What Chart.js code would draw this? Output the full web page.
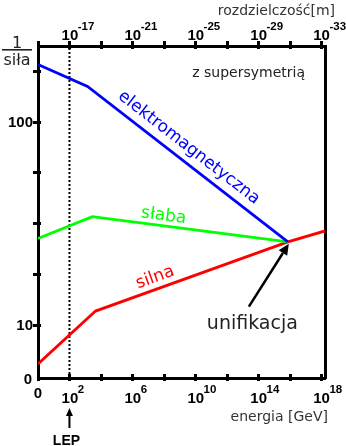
<!DOCTYPE html>
<html>
<head>
<meta charset="utf-8">
<script src="https://cdn.jsdelivr.net/npm/chart.js@4.4.1/dist/chart.umd.min.js"></script>
<style>
  html, body { margin: 0; padding: 0; background: #fff; }
  #wrap { width: 346px; height: 446px; }
</style>
</head>
<body>
<div id="wrap"><canvas id="c" width="346" height="446"></canvas></div>
<script>
// Running couplings (inverse strength) vs. energy in GeV, supersymmetric case
const electromagneticEnergy = [1, 10 ** 3.15, 10 ** 15.89];
const electromagneticInverse = [191, 149, 25.6];
const weakEnergy = [1, 10 ** 3.45, 10 ** 15.89];
const weakInverse = [26.6, 34.1, 25.6];
const strongEnergy = [1, 10 ** 3.66, 10 ** 15.89, 10 ** 18.25];
const strongInverse = [6.43, 11.7, 25.6, 29.0];
const lepEnergy = 100;

// Axis ranges and ticks
const energyRange = [1, 10 ** 18.25];
const inverseRange = [10 ** 0.739, 10 ** 2.372];
const metresAtOneGeV = 1e-15;
const energyTicks = [1, 1e2, 1e4, 1e6, 1e8, 1e10, 1e12, 1e14, 1e16, 1e18];
const energyTickExponents = [2, 6, 10, 14, 18];
const lengthTicks = [1e-15, 1e-17, 1e-19, 1e-21, 1e-23, 1e-25, 1e-27, 1e-29, 1e-31, 1e-33];
const lengthTickExponents = [-17, -21, -25, -29, -33];
const inverseTicks = [10, 17.78, 31.62, 56.23, 100, 177.8];
const inverseTickLabels = [10, 100];

const pairs = (xs, ys) => xs.map((x, i) => ({ x, y: ys[i] }));

const LABEL_FONT = 'bold 15px "Liberation Sans", Arial, sans-serif';
const EXP_FONT = 'bold 11.5px "Liberation Sans", Arial, sans-serif';
const TEXT_FONT = '"DejaVu Sans", Verdana, sans-serif';

function drawPower(ctx, x, baseY, expY, exp) {
  ctx.font = LABEL_FONT;
  ctx.textAlign = 'center';
  ctx.textBaseline = 'alphabetic';
  const w = ctx.measureText('10').width;
  ctx.fillText('10', x + 0.5, baseY);
  ctx.font = EXP_FONT;
  ctx.textAlign = 'left';
  ctx.fillText(String(exp), x + w / 2, expY);
}

function arrow(ctx, x1, y1, x2, y2, head, halfW, lw) {
  const a = Math.atan2(y2 - y1, x2 - x1);
  const bx = x2 - head * Math.cos(a), by = y2 - head * Math.sin(a);
  ctx.lineWidth = lw;
  ctx.beginPath();
  ctx.moveTo(x1, y1);
  ctx.lineTo(bx, by);
  ctx.stroke();
  ctx.beginPath();
  ctx.moveTo(x2, y2);
  ctx.lineTo(bx + halfW * Math.sin(a), by - halfW * Math.cos(a));
  ctx.lineTo(bx - halfW * Math.sin(a), by + halfW * Math.cos(a));
  ctx.closePath();
  ctx.fill();
}

function textOnSegment(chart, dsIndex, segIndex, text, at, color, size) {
  const ctx = chart.ctx;
  const pts = chart.getDatasetMeta(dsIndex).data;
  const p1 = pts[segIndex], p2 = pts[segIndex + 1];
  const ang = Math.atan2(p2.y - p1.y, p2.x - p1.x);
  const x = chart.scales.x.getPixelForValue(at.x);
  const y = chart.scales.y.getPixelForValue(at.y);
  ctx.save();
  ctx.translate(x, y);
  ctx.rotate(ang);
  ctx.font = size + 'px ' + TEXT_FONT;
  ctx.fillStyle = color;
  ctx.textAlign = 'center';
  ctx.textBaseline = 'middle';
  ctx.fillText(text, 0, 0);
  ctx.restore();
}

const axisDecor = {
  id: 'axisDecor',
  afterDraw(chart) {
    const ctx = chart.ctx;
    const { left, right, top, bottom } = chart.chartArea;
    const sx = chart.scales.x, sx2 = chart.scales.x2, sy = chart.scales.y;
    ctx.save();
    ctx.strokeStyle = '#000';
    ctx.fillStyle = '#000';
    ctx.lineWidth = 3;
    ctx.lineCap = 'butt';

    // tick marks crossing the frame
    ctx.beginPath();
    sx.ticks.forEach(t => {
      const px = Math.round(sx.getPixelForValue(t.value)) + 0.5;
      ctx.moveTo(px, bottom - 4); ctx.lineTo(px, bottom + 3);
    });
    sx2.ticks.forEach(t => {
      const px = Math.round(sx2.getPixelForValue(t.value)) + 0.5;
      ctx.moveTo(px, top - 5); ctx.lineTo(px, top + 3);
    });
    sy.ticks.forEach(t => {
      const py = Math.round(sy.getPixelForValue(t.value)) + 0.5;
      ctx.moveTo(left - 5, py); ctx.lineTo(left + 3, py);
    });
    ctx.stroke();

    // bottom energy labels
    ctx.fillStyle = '#000';
    ctx.font = LABEL_FONT;
    ctx.textAlign = 'center';
    ctx.textBaseline = 'alphabetic';
    ctx.fillText('0', sx.getPixelForValue(energyRange[0]), bottom + 20);
    energyTickExponents.forEach(e => {
      drawPower(ctx, sx.getPixelForValue(10 ** e), bottom + 25, bottom + 15, e);
    });
    // top length labels
    lengthTickExponents.forEach(e => {
      drawPower(ctx, sx2.getPixelForValue(10 ** e), top - 6, top - 16, e);
    });
    // left inverse-strength labels
    ctx.font = LABEL_FONT;
    ctx.textAlign = 'right';
    ctx.textBaseline = 'middle';
    ctx.fillText('0', left - 6, bottom + 2);
    inverseTickLabels.forEach(v => {
      ctx.fillText(String(v), left - 5, sy.getPixelForValue(v) + 1);
    });

    // axis titles
    ctx.fillStyle = '#333';
    ctx.font = '14px ' + TEXT_FONT;
    ctx.textAlign = 'right';
    ctx.textBaseline = 'alphabetic';
    ctx.fillText('rozdzielczość[m]', right + 10, 15);
    ctx.fillText('energia [GeV]', right + 3, bottom + 43);

    // 1 / siła
    ctx.fillStyle = '#222';
    ctx.font = '16px ' + TEXT_FONT;
    ctx.textAlign = 'center';
    ctx.fillText('1', 17, 48);
    ctx.fillText('siła', 17, 65);
    ctx.fillRect(2, 49, 30, 1.6);

    // note in the corner
    ctx.font = '14px ' + TEXT_FONT;
    ctx.textAlign = 'right';
    ctx.fillText('z supersymetrią', right - 20, top + 31);

    // curve labels
    textOnSegment(chart, 0, 1, 'elektromagnetyczna', { x: 10 ** 9.59, y: 74.5 }, '#0000ff', 17);
    textOnSegment(chart, 1, 1, 'słaba', { x: 10 ** 7.99, y: 34.4 }, '#00ff00', 17);
    textOnSegment(chart, 2, 1, 'silna', { x: 10 ** 7.45, y: 17.1 }, '#ff0000', 17);

    // unification arrow and label
    ctx.fillStyle = '#000';
    ctx.strokeStyle = '#000';
    arrow(ctx, sx.getPixelForValue(10 ** 13.41), sy.getPixelForValue(12.3),
      sx.getPixelForValue(10 ** 15.95), sy.getPixelForValue(25.1), 11, 5, 2.5);
    ctx.fillStyle = '#222';
    ctx.font = '19px ' + TEXT_FONT;
    ctx.textAlign = 'center';
    ctx.textBaseline = 'alphabetic';
    ctx.fillText('unifikacja', sx.getPixelForValue(10 ** 13.63), sy.getPixelForValue(9.72) + 2);

    // LEP marker below the energy axis
    const lx = sx.getPixelForValue(lepEnergy);
    ctx.fillStyle = '#000';
    arrow(ctx, lx, bottom + 50, lx, bottom + 30, 8, 3.5, 2);
    ctx.font = 'bold 14px "Liberation Sans", Arial, sans-serif';
    ctx.textAlign = 'center';
    ctx.fillText('LEP', lx - 3, bottom + 67);
    ctx.restore();
  }
};

const frame = { display: true, color: '#000', width: 3 };
const hiddenTicks = { display: false };
const noGrid = { drawOnChartArea: false, drawTicks: false };

new Chart(document.getElementById('c'), {
  type: 'line',
  data: {
    datasets: [
      { label: 'elektromagnetyczna', data: pairs(electromagneticEnergy, electromagneticInverse), borderColor: '#0000ff' },
      { label: 'słaba', data: pairs(weakEnergy, weakInverse), borderColor: '#00ff00' },
      { label: 'silna', data: pairs(strongEnergy, strongInverse), borderColor: '#ff0000' },
      { label: 'LEP', data: [{ x: lepEnergy, y: inverseRange[0] }, { x: lepEnergy, y: inverseRange[1] }],
        borderColor: '#000', borderWidth: 2, borderDash: [2, 2] }
    ]
  },
  options: {
    responsive: false,
    animation: false,
    devicePixelRatio: 1,
    layout: { padding: { left: 38, top: 46, right: 21, bottom: 68 } },
    plugins: { legend: { display: false }, tooltip: { enabled: false } },
    elements: {
      point: { radius: 0, hoverRadius: 0 },
      line: { borderWidth: 2.8, tension: 0, fill: false }
    },
    scales: {
      x: {
        type: 'logarithmic', position: 'bottom', min: energyRange[0], max: energyRange[1],
        afterBuildTicks: s => { s.ticks = energyTicks.map(v => ({ value: v })); },
        ticks: hiddenTicks, grid: noGrid, border: frame
      },
      x2: {
        type: 'logarithmic', position: 'top', reverse: true,
        min: metresAtOneGeV / energyRange[1], max: metresAtOneGeV / energyRange[0],
        afterBuildTicks: s => { s.ticks = lengthTicks.map(v => ({ value: v })); },
        ticks: hiddenTicks, grid: noGrid, border: frame
      },
      y: {
        type: 'logarithmic', position: 'left', min: inverseRange[0], max: inverseRange[1],
        afterBuildTicks: s => { s.ticks = inverseTicks.map(v => ({ value: v })); },
        ticks: hiddenTicks, grid: noGrid, border: frame
      },
      y2: {
        type: 'logarithmic', position: 'right', min: inverseRange[0], max: inverseRange[1],
        afterBuildTicks: s => { s.ticks = []; },
        ticks: hiddenTicks, grid: noGrid, border: frame
      }
    }
  },
  plugins: [axisDecor]
});
</script>
</body>
</html>
